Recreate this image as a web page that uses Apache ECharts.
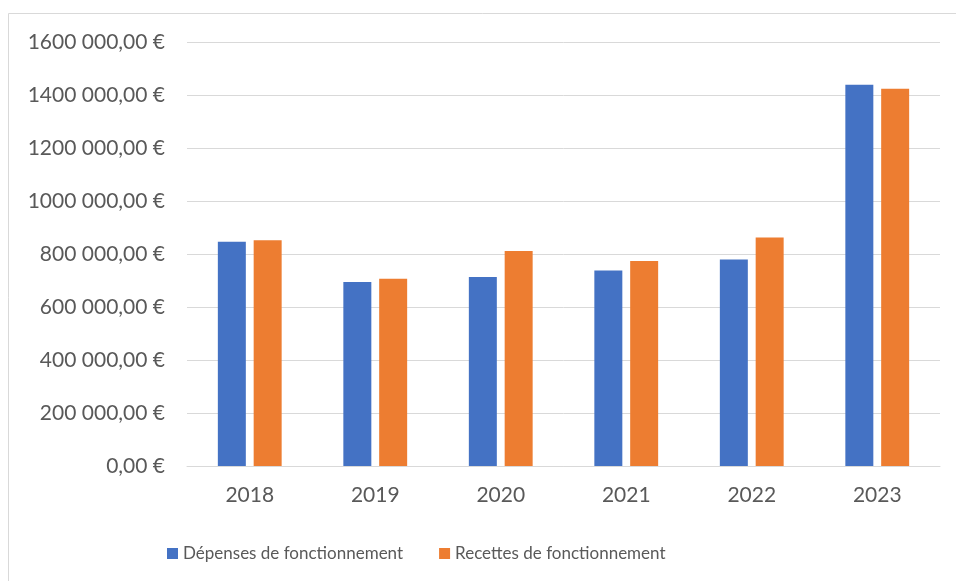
<!DOCTYPE html>
<html>
<head>
<meta charset="utf-8">
<script src="https://cdn.jsdelivr.net/npm/echarts@6/dist/echarts.min.js"></script>
<style>
  html, body { margin: 0; padding: 0; background: #fff; }
  #chart { width: 956px; height: 581px; }
</style>
</head>
<body>
<div id="chart"></div>
<script>
var years = ['2018', '2019', '2020', '2021', '2022', '2023'];
var depenses = [846000, 694000, 713000, 738000, 779000, 1439000];
var recettes = [852000, 707000, 811000, 774000, 862000, 1424000];
var seriesNames = ['Dépenses de fonctionnement', 'Recettes de fonctionnement'];

var FONT = 'Lato';
var TEXT = '#595959';

function formatEuro(v) {
  if (v === 0) {
    return '0,00 €';
  }
  var k = Math.floor(v / 1000);
  var rest = String(v % 1000);
  while (rest.length < 3) rest = '0' + rest;
  return k + ' ' + rest + ',00 €';
}

var chart = echarts.init(document.getElementById('chart'));

chart.setOption({
  animation: false,
  backgroundColor: '#fff',
  textStyle: { fontFamily: FONT },
  graphic: [{
    type: 'rect',
    shape: { x: 8.5, y: 13.5, width: 960, height: 600 },
    style: { fill: 'none', stroke: '#d9d9d9', lineWidth: 1 },
    silent: true
  }],
  grid: { left: 187, right: 16, top: 42, bottom: 115 },
  legend: {
    top: 540,
    left: 162,
    itemWidth: 11,
    itemHeight: 11,
    itemGap: 36,
    icon: 'rect',
    textStyle: { color: TEXT, fontSize: 17, fontFamily: FONT },
    data: seriesNames
  },
  xAxis: {
    type: 'category',
    data: years,
    axisLine: { lineStyle: { color: '#d9d9d9', width: 1 } },
    axisTick: { show: false },
    axisLabel: { color: TEXT, fontSize: 21, margin: 19 }
  },
  yAxis: {
    type: 'value',
    min: 0,
    max: 1600000,
    interval: 200000,
    axisLine: { show: false },
    axisTick: { show: false },
    splitLine: { lineStyle: { color: '#d9d9d9', width: 1 } },
    axisLabel: { color: TEXT, fontSize: 21, margin: 22, formatter: formatEuro }
  },
  series: [{
    name: seriesNames[0],
    type: 'bar',
    data: depenses,
    barWidth: '22.3%',
    barGap: '28%',
    itemStyle: { color: '#4472c4' }
  }, {
    name: seriesNames[1],
    type: 'bar',
    data: recettes,
    barWidth: '22.3%',
    itemStyle: { color: '#ed7d31' }
  }]
});
</script>
</body>
</html>
